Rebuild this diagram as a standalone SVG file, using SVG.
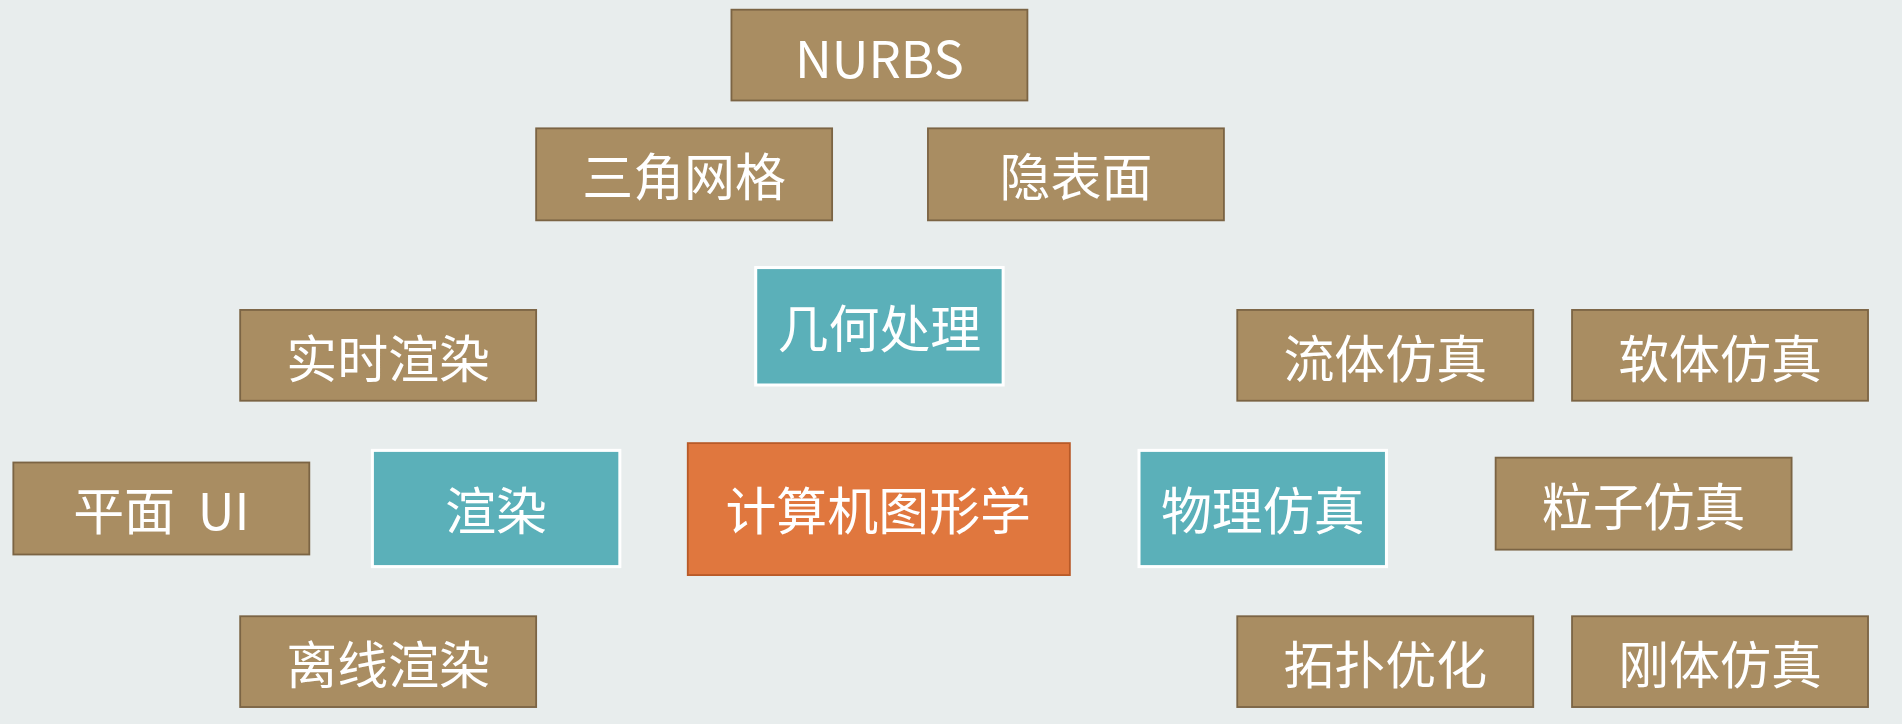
<svg xmlns="http://www.w3.org/2000/svg" width="1902" height="724" viewBox="0 0 1902 724">
<style>
.b{fill:#a98d62;stroke:#7b6444;stroke-width:1.5}
.t{fill:#5bb0b9;stroke:#ffffff;stroke-width:2.5}
.o{fill:#e0773e;stroke:#b85a28;stroke-width:1.5}
text{font-family:"Noto Sans CJK SC","Noto Sans",sans-serif;font-size:42px;fill:#ffffff;text-anchor:middle;dominant-baseline:central}
</style>
<rect width="1902" height="724" fill="#e8eded"/>
<g id="connectors"/>
<g transform="scale(1.213,1.2107)">
<g id="nurbs"><rect class="b" x="603" y="8" width="244" height="75"/><text x="725" y="46">NURBS</text></g>
<g id="mesh"><rect class="b" x="442" y="106" width="244" height="76"/><text x="564" y="144">三角网格</text></g>
<g id="implicit"><rect class="b" x="765" y="106" width="244" height="76"/><text x="887" y="144">隐表面</text></g>
<g id="geometry"><rect class="t" x="623" y="221" width="204" height="97"/><text x="725" y="269">几何处理</text></g>
<g id="realtime"><rect class="b" x="198" y="256" width="244" height="75"/><text x="320" y="294">实时渲染</text></g>
<g id="fluid"><rect class="b" x="1020" y="256" width="244" height="75"/><text x="1142" y="294">流体仿真</text></g>
<g id="soft"><rect class="b" x="1296" y="256" width="244" height="75"/><text x="1418" y="294">软体仿真</text></g>
<g id="ui"><rect class="b" x="11" y="382" width="244" height="76"/><text x="133" y="420" xml:space="preserve">平面  UI</text></g>
<g id="render"><rect class="t" x="307" y="372" width="204" height="96"/><text x="409" y="420">渲染</text></g>
<g id="cg"><rect class="o" x="567" y="366" width="315" height="109"/><text x="724" y="420">计算机图形学</text></g>
<g id="physics"><rect class="t" x="939" y="372" width="204" height="96"/><text x="1041" y="420">物理仿真</text></g>
<g id="particle"><rect class="b" x="1233" y="378" width="244" height="76"/><text x="1355" y="416">粒子仿真</text></g>
<g id="offline"><rect class="b" x="198" y="509" width="244" height="75"/><text x="320" y="547">离线渲染</text></g>
<g id="topo"><rect class="b" x="1020" y="509" width="244" height="75"/><text x="1142" y="547">拓扑优化</text></g>
<g id="rigid"><rect class="b" x="1296" y="509" width="244" height="75"/><text x="1418" y="547">刚体仿真</text></g>
</g>
</svg>
